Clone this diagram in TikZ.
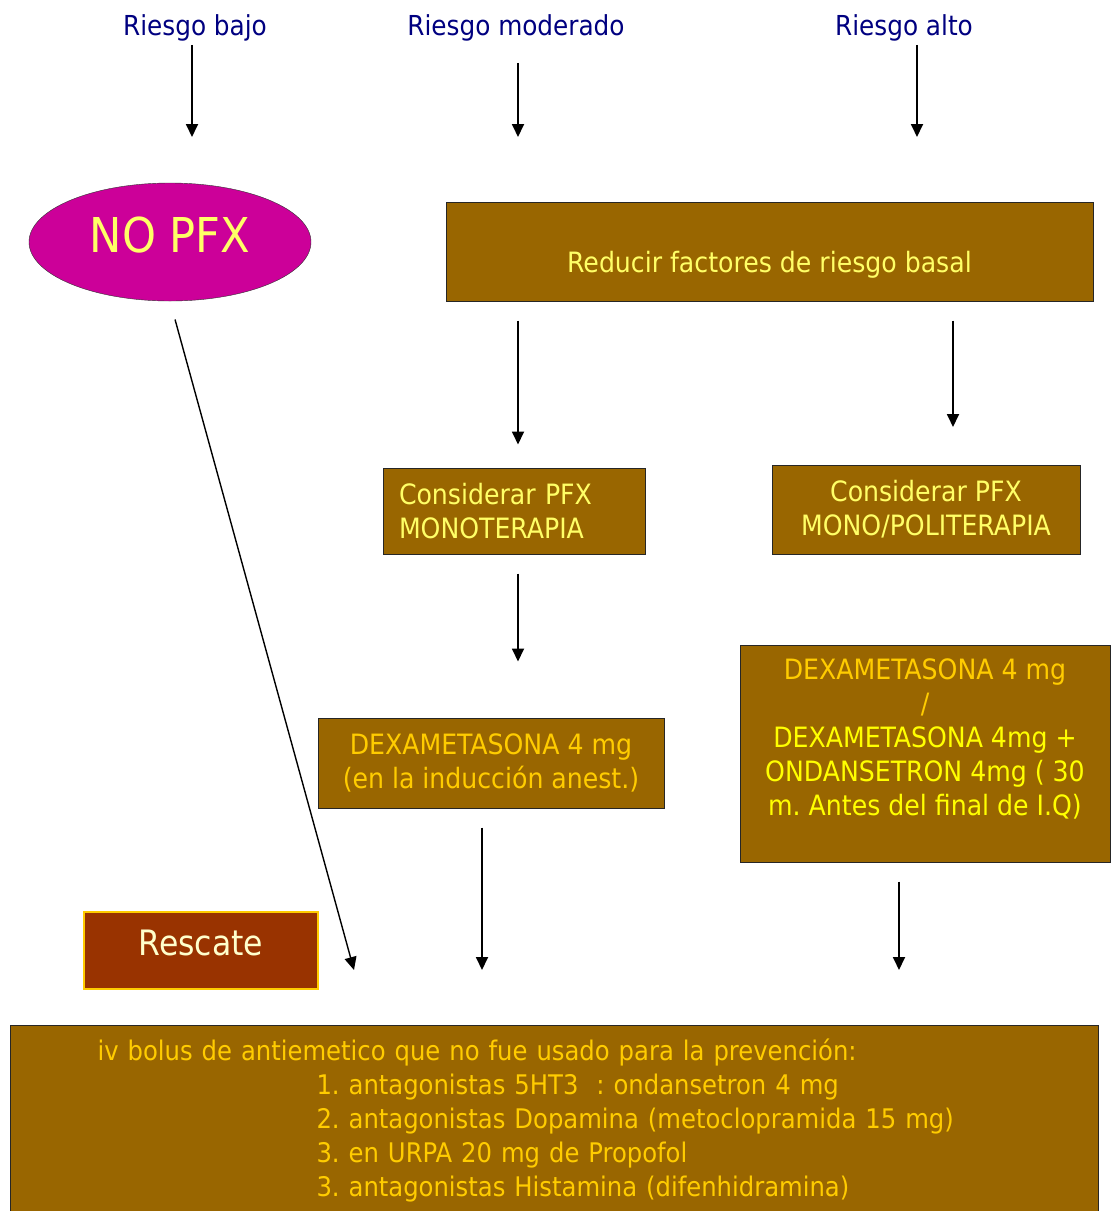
\documentclass[tikz,border=0pt]{standalone}
\usepackage{fontspec}
\setmainfont{DejaVu Sans Condensed}
\usetikzlibrary{shapes.geometric,arrows.meta}
\frenchspacing

\definecolor{marron}{HTML}{996600}
\definecolor{rojizo}{HTML}{993300}
\definecolor{fucsia}{HTML}{CC0099}
\definecolor{amarillo}{HTML}{FFFF66}
\definecolor{limon}{HTML}{FFFF00}
\definecolor{oro}{HTML}{FFCC00}
\definecolor{crema}{HTML}{FFFFCC}
\definecolor{azul}{HTML}{000080}

\begin{document}
\begin{tikzpicture}[x=1pt, y=-1pt, >={Triangle[length=13pt,width=12pt]},
    caja/.style={draw=black!85, line width=1pt, fill=marron, inner sep=0pt,
        align=center, font=\fontsize{28}{34}\selectfont},
    riesgo/.style={text=azul, font=\fontsize{27.5}{30}\selectfont},
    flecha/.style={->, line width=1.8pt}]
    \useasboundingbox (0,0) rectangle (1111,1211);

    % niveles de riesgo
    \node[riesgo] (bajo) at (195,28) {Riesgo bajo};
    \node[riesgo] (moderado) at (516,28) {Riesgo moderado};
    \node[riesgo] (alto) at (904,28) {Riesgo alto};

    \node[ellipse, draw=black!80, fill=fucsia, minimum width=282pt,
        minimum height=118pt, text=amarillo, text depth=14pt,
        font=\fontsize{48}{48}\selectfont] (nopfx) at (170,242) {NO PFX};

    \node[caja, text=amarillo, minimum width=647pt, minimum height=99pt,
        text height=48pt, text depth=6pt] (reducir) at (769.5,251.5)
        {Reducir factores de riesgo basal};

    \node[caja, text=amarillo, minimum width=262pt, minimum height=86pt,
        text width=230pt, align=left] (mono) at (514,511)
        {Considerar PFX\\MONOTERAPIA};
    \node[caja, text=amarillo, minimum width=308pt, minimum height=89pt]
        (poli) at (926,509.5) {Considerar PFX\\MONO/POLITERAPIA};

    \node[caja, text=oro, minimum width=346pt, minimum height=90pt]
        (dexamod) at (491,763)
        {DEXAMETASONA 4 mg\\(en la inducción anest.)};
    \node[caja, text=limon, minimum width=370pt, minimum height=217pt,
        text depth=32pt] (dexaalto) at (925,753.5)
        {\textcolor{oro}{DEXAMETASONA 4 mg}\\\textcolor{oro}{/}\\
         DEXAMETASONA 4mg +\\ONDANSETRON 4mg ( 30\\m. Antes del final de I.Q)};

    \node[draw=oro, line width=1.5pt, fill=rojizo, text=crema,
        minimum width=234pt, minimum height=77pt, text depth=16pt,
        font=\fontsize{35}{35}\selectfont] (rescate) at (201,950.5) {Rescate};

    \node[caja, text=oro, anchor=north west, minimum width=1088pt,
        minimum height=190pt, text width=914pt, align=left,
        font=\fontsize{27}{34}\selectfont] (bolus) at (10,1025)
        {iv bolus de antiemetico que no fue usado para la prevención:\\
         \hspace*{219pt}1. antagonistas 5HT3\ \ : ondansetron 4 mg\\
         \hspace*{219pt}2. antagonistas Dopamina (metoclopramida 15 mg)\\
         \hspace*{219pt}3. en URPA 20 mg de Propofol\\
         \hspace*{219pt}3. antagonistas Histamina (difenhidramina)};

    % extremos libres de las flechas
    \coordinate (fb) at (192,137);
    \coordinate (fm) at (518,137);
    \coordinate (fa) at (917,137);
    \coordinate (fp) at (953,427);
    \coordinate (fn) at (354,970);
    \coordinate (fd) at (482,970);
    \coordinate (fx) at (899,970);

    \draw[flecha] (bajo.south -| fb) -- (fb);
    \draw[flecha, shorten <=18pt] (moderado.south -| fm) -- (fm);
    \draw[flecha] (alto.south -| fa) -- (fa);

    \draw[flecha, shorten <=19pt, shorten >=23pt]
        (reducir.south -| fm) -- (mono.north -| fm);
    \draw[flecha, shorten <=19pt] (reducir.south -| fp) -- (fp);
    \draw[flecha, shorten <=19pt, shorten >=56pt]
        (mono.south -| fm) -- (dexamod.north -| fm);

    \draw[line width=1.4pt, ->, shorten <=19pt] (nopfx.south) -- (fn);
    \draw[flecha, shorten <=19pt] (dexamod.south -| fd) -- (fd);
    \draw[flecha, shorten <=19pt] (dexaalto.south -| fx) -- (fx);
\end{tikzpicture}
\end{document}
